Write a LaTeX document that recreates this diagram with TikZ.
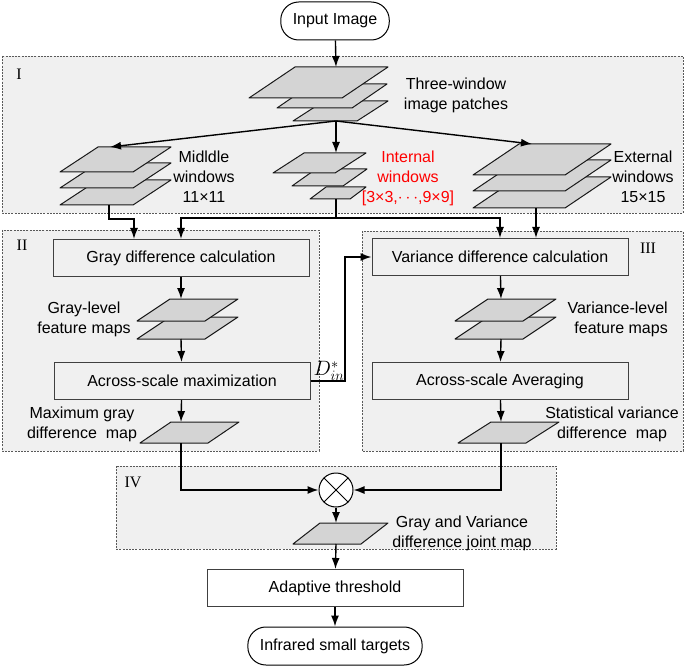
\documentclass[tikz,border=0pt]{standalone}
\usepackage{fontspec}
\setmainfont{Liberation Sans}
\newfontfamily\romfont{Liberation Serif}
\usetikzlibrary{arrows.meta, positioning}
\tikzset{%
>={Latex[width=8pt,length=11pt]},
  % Specifications for style of nodes:
            region/.style = {draw=black!65, fill=black!6, line width=0.8pt,
                            dash pattern=on 2pt off 1.2pt},
            procbox/.style = {rectangle, draw=black!75, line width=1pt,
                            minimum width=256pt, minimum height=37pt},
            termbox/.style = {rectangle, rounded corners=18pt, draw=black,
                            line width=1pt, minimum height=38pt, inner xsep=12pt},
            sheet/.style = {draw=black!90, fill=black!17, line width=1pt,
                            line join=round},
            link/.style = {line width=1.4pt},
            numlabel/.style = {font=\romfont\fontsize{16}{19}\selectfont},
            txt/.style = {align=center, inner sep=0pt}
}
% bottom-left x, y, width, height, slant
\newcommand{\drawsheet}[5]{\draw[sheet] (#1,#2) -- ++(#3,0) -- ++(#5,-#4) -- ++(-#3,0) -- cycle;}

\begin{document}
\begin{tikzpicture}[x=1pt, y=-1pt, font=\fontsize{16}{20}\selectfont]
                        \useasboundingbox (0,0) rectangle (685,668);
                        % regions
                        \draw[region] (2,56) rectangle (683,213);
                        \draw[region] (2,230) rectangle (319,451);
                        \draw[region] (362,231) rectangle (683,451);
                        \draw[region] (116,466) rectangle (556,549);
                        \node[numlabel] (numI) at (19,74) {I};
                        \node[numlabel] (numII) at (22,245) {II};
                        \node[numlabel] (numIII) at (648,248) {III};
                        \node[numlabel] (numIV) at (133,482) {IV};
                        % terminals and boxes
                        \node[termbox] (input) at (335,21) {Input Image};
                        \node[procbox] (graycalc) at (181,258) {Gray difference calculation};
                        \node[procbox] (grayagg) at (182,381) {Across-scale maximization};
                        \node[procbox] (varcalc) at (500,257) {Variance difference calculation};
                        \node[procbox] (varagg) at (500,381) {Across-scale Averaging};
                        \node[procbox, fill=white] (thresh) at (335,588) {Adaptive threshold};
                        \node[termbox] (output) at (335,646) {Infrared small targets};
                        \node[draw, circle, line width=1pt, fill=white, minimum size=34pt] (mult) at (336,490) {};
                        \draw[line width=1pt] (mult.north west) -- (mult.south east)
                                              (mult.north east) -- (mult.south west);
                        % image patches
                        \drawsheet{293}{121}{64}{20}{31}
                        \drawsheet{277}{108}{75}{24}{35}
                        \drawsheet{249}{98}{93}{31}{46}
                        \coordinate (patchT) at (336,67);
                        \coordinate (patchB) at (336,121);
                        \foreach \y in {205,188,172} {\drawsheet{60}{\y}{73}{25}{38}}
                        \coordinate (midT) at (110,147);
                        \coordinate (midB) at (109,205);
                        \drawsheet{310}{199}{40}{12}{16}
                        \drawsheet{292}{186}{51}{17}{24}
                        \drawsheet{273}{173}{62}{20}{31}
                        \coordinate (intT) at (336,153);
                        \coordinate (intB) at (336,199);
                        \foreach \y in {208,191,175} {\drawsheet{473}{\y}{92}{31}{46}}
                        \coordinate (extT) at (532,144);
                        \coordinate (extB) at (536,208);
                        % feature maps
                        \drawsheet{137}{339}{68}{22}{33}
                        \drawsheet{137}{321}{68}{22}{33}
                        \coordinate (grayT) at (181,299);
                        \coordinate (grayB) at (181,339);
                        \drawsheet{140}{443}{68}{21}{31}
                        \coordinate (maxT) at (181,422);
                        \coordinate (maxB) at (181,443);
                        \drawsheet{455}{339}{68}{22}{33}
                        \drawsheet{455}{321}{68}{22}{33}
                        \coordinate (varT) at (501,299);
                        \coordinate (varB) at (501,339);
                        \drawsheet{458}{443}{68}{21}{33}
                        \coordinate (statT) at (501,422);
                        \coordinate (statB) at (501,443);
                        \drawsheet{293}{544}{68}{21}{27}
                        \coordinate (jointT) at (336,523);
                        \coordinate (jointB) at (336,544);
                        % texts
                        \node[txt] (patchtxt) at (456,95) {Three-window\\image patches};
                        \node[txt] (midtxt) at (204,177) {Midldle\\windows\\11×11};
                        \node[txt, text=red] (inttxt) at (408,178) {Internal\\windows\\{[}3×3,$\cdots$,9×9{]}};
                        \node[txt] (exttxt) at (643,177) {External\\windows\\15×15};
                        \node[txt] (graytxt) at (84,319) {Gray-level\\feature maps};
                        \node[txt] (maxtxt) at (82,424) {Maximum gray\\difference\ \ map};
                        \node[txt, align=right, anchor=east] (vartxt) at (668,319) {Variance-level\\feature maps};
                        \node[txt] (stattxt) at (612,424) {Statistical variance\\difference\ \ map};
                        \node[txt] (jointtxt) at (462,533) {Gray and Variance\\difference joint map};
                        \node[inner sep=0pt, font=\fontsize{20}{22}\selectfont] (dstar) at (329,371) {$D_{in}^{*}$};
                        % connectors
                        \coordinate (midturn) at (134,219);
                        \coordinate (intturn) at (336,218);
                        \coordinate (dbend) at (345,257);
                        \draw[link,->] (input) -- (patchT);
                        \draw[link,->] (patchB) -- (midT);
                        \draw[link,->] (patchB) -- (intT);
                        \draw[link,->] (patchB) -- (extT);
                        \draw[link,->] (midB) |- (midturn) -- (midturn |- graycalc.north);
                        \draw[link] (intB) -- (intturn);
                        \draw[link,->] (intturn) -| (graycalc.north);
                        \draw[link,->] (intturn) -| (varcalc.north);
                        \draw[link,->] (extB) -- (extB |- varcalc.north);
                        \draw[link,->] (graycalc) -- (grayT);
                        \draw[link,->] (grayB) -- (grayagg);
                        \draw[link,->] (grayagg) -- (maxT);
                        \draw[link,->] (maxB) |- (mult.west);
                        \draw[link,->] (grayagg.east) -| (dbend) -- (varcalc.west);
                        \draw[link,->] (varcalc) -- (varT);
                        \draw[link,->] (varB) -- (varagg);
                        \draw[link,->] (varagg) -- (statT);
                        \draw[link,->] (statB) |- (mult.east);
                        \draw[link,->] (mult) -- (jointT);
                        \draw[link,->] (jointB) -- (thresh);
                        \draw[link,->] (thresh) -- (output);
                    \end{tikzpicture}
\end{document}
